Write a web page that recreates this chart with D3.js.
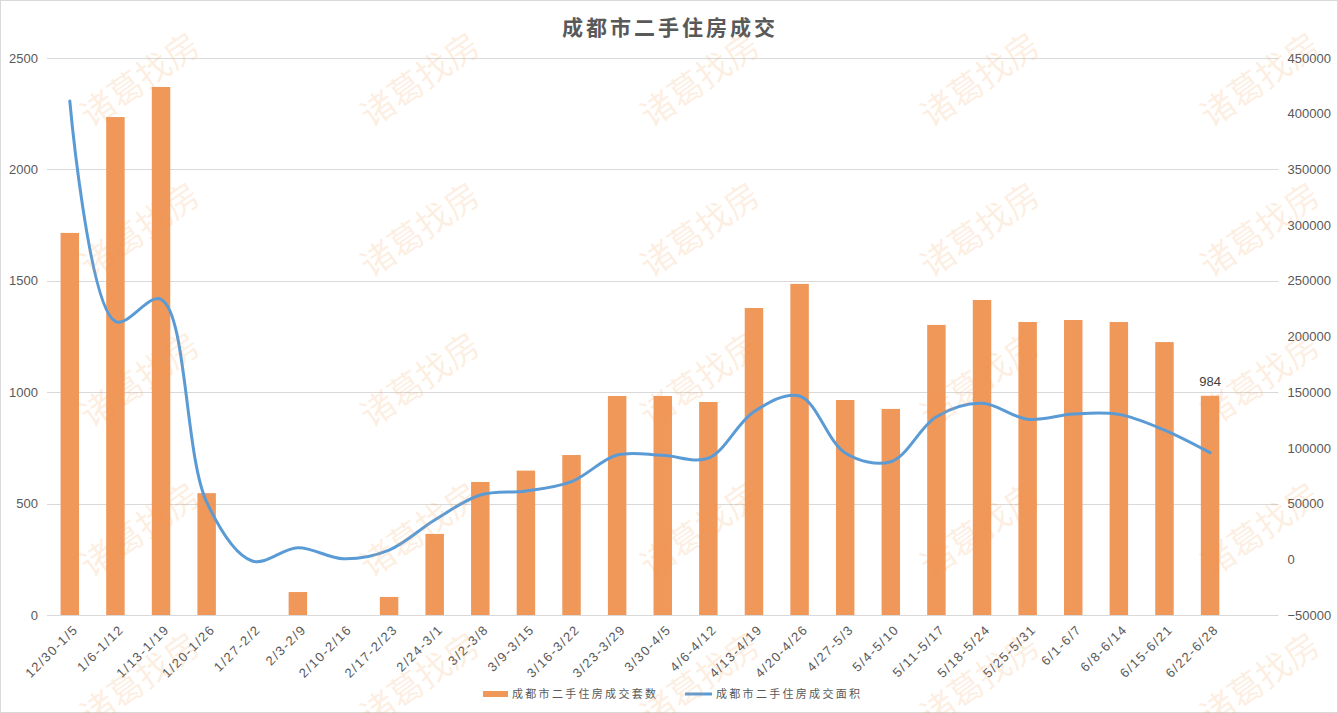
<!DOCTYPE html>
<html><head><meta charset="utf-8">
<script src="https://cdn.jsdelivr.net/npm/d3@7"></script>
<style>body{margin:0;background:#fff}svg{display:block}</style>
</head><body><svg id="c" width="1338" height="713"></svg>
<script>
const categories = ["12/30-1/5","1/6-1/12","1/13-1/19","1/20-1/26","1/27-2/2","2/3-2/9","2/10-2/16","2/17-2/23","2/24-3/1","3/2-3/8","3/9-3/15","3/16-3/22","3/23-3/29","3/30-4/5","4/6-4/12","4/13-4/19","4/20-4/26","4/27-5/3","5/4-5/10","5/11-5/17","5/18-5/24","5/25-5/31","6/1-6/7","6/8-6/14","6/15-6/21","6/22-6/28"];
const countValues = [1715,2235,2370,547,0,103,0,81,364,597,648,718,983,983,956,1378,1486,965,925,1302,1414,1315,1324,1315,1225,984];
const areaValues = [411400,213500,233400,51500,-1500,10400,500,8300,35300,57700,61300,69700,93600,93300,90800,132500,146600,95500,87600,128000,140000,125700,130400,130100,116000,95700];
const leftTicks = [0,500,1000,1500,2000,2500];
const rightTicks = [-50000,0,50000,100000,150000,200000,250000,300000,350000,400000,450000];
const seriesNames = ["成都市二手住房成交套数","成都市二手住房成交面积"];
const title = "成都市二手住房成交";
const watermark = "诸葛找房";

const W = 1338, H = 713;
const plot = {left: 47, right: 1278.5, top: 58, bottom: 615};
const barColor = "#F0985A", lineColor = "#5B9BD5", gridColor = "#d9d9d9", textColor = "#595959";
const svg = d3.select("#c");

svg.append("rect").attr("x",0.5).attr("y",0.5).attr("width",W-1).attr("height",H-1)
  .attr("fill","#fff").attr("stroke","#d9d9d9");

const step = (plot.right - plot.left) / (categories.length + 1);
const x = d3.scaleBand().domain(categories)
  .range([plot.left, plot.right - step]).paddingInner(0.595).paddingOuter(0.2975);
const yL = d3.scaleLinear().domain([0,2500]).range([plot.bottom, plot.top]);
const yR = d3.scaleLinear().domain([-50000,450000]).range([plot.bottom, plot.top]);
const cx = c => x(c) + x.bandwidth()/2;

// gridlines
svg.append("g").selectAll("line").data(leftTicks).join("line")
  .attr("x1", plot.left).attr("x2", plot.right)
  .attr("y1", d => Math.round(yL(d))+0.5).attr("y2", d => Math.round(yL(d))+0.5)
  .attr("stroke", gridColor).attr("stroke-width",1);

// left axis
const axL = svg.append("g").attr("transform",`translate(${plot.left-9},0)`)
  .call(d3.axisLeft(yL).tickValues(leftTicks).tickSize(0).tickPadding(0).tickFormat(d => String(d)));
axL.select(".domain").remove();
axL.selectAll("text").attr("fill",textColor).style("font-family","'Liberation Sans',Arial,sans-serif").style("font-size","13px");

// right axis
const axR = svg.append("g").attr("transform",`translate(${plot.right+9},0)`)
  .call(d3.axisRight(yR).tickValues(rightTicks).tickSize(0).tickPadding(0).tickFormat(d => d<0 ? "\u2212"+Math.abs(d) : String(d)));
axR.select(".domain").remove();
axR.selectAll("text").attr("fill",textColor).style("font-family","'Liberation Sans',Arial,sans-serif").style("font-size","13px");

// bars
svg.append("g").selectAll("rect").data(categories).join("rect")
  .attr("x", c => x(c)).attr("width", x.bandwidth())
  .attr("y", (c,i) => yL(countValues[i])).attr("height", (c,i) => yL(0) - yL(countValues[i]))
  .attr("fill", barColor);

// line
const line = d3.line().x((d,i) => cx(categories[i])).y(d => yR(d)).curve(d3.curveCatmullRom.alpha(0.5));
svg.append("path").datum(areaValues).attr("d", line)
  .attr("fill","none").attr("stroke",lineColor).attr("stroke-width",3).attr("stroke-linecap","round");

// data label
const last = categories.length-1;
svg.append("text").attr("x", cx(categories[last])).attr("y", yL(countValues[last]) - 10)
  .attr("text-anchor","middle").attr("fill","#404040")
  .style("font-family","'Liberation Sans',Arial,sans-serif").style("font-size","13px")
  .text(countValues[last]);

// x labels
svg.append("g").selectAll("text").data(categories).join("text")
  .attr("transform", c => `translate(${cx(c)+6},${plot.bottom+12}) rotate(-45)`)
  .attr("text-anchor","end").attr("dy","0.35em").attr("fill",textColor)
  .style("font-family","'Liberation Sans',Arial,sans-serif").style("font-size","13px")
  .style("letter-spacing","1.5px")
  .text(c => c);

// title
svg.append("text").attr("x", 670).attr("y", 35).attr("text-anchor","middle")
  .attr("fill", textColor).style("font-family","'Noto Sans CJK SC',sans-serif")
  .style("font-size","21px").style("font-weight","bold").style("letter-spacing","3px")
  .text(title);

// legend
const lg = svg.append("g").style("font-family","'Noto Sans CJK SC',sans-serif").style("font-size","11px");
lg.append("rect").attr("x",483).attr("y",691).attr("width",25).attr("height",6).attr("fill",barColor);
lg.append("text").attr("x",512).attr("y",698).attr("fill",textColor).style("letter-spacing","2.3px").text(seriesNames[0]);
lg.append("line").attr("x1",685).attr("x2",712).attr("y1",694).attr("y2",694).attr("stroke",lineColor).attr("stroke-width",3);
lg.append("text").attr("x",716).attr("y",698).attr("fill",textColor).style("letter-spacing","2.3px").text(seriesNames[1]);

// watermark
const wm = svg.append("g").attr("pointer-events","none");
const cols = [140,420,700,980,1260], rows = [80,230,380,530,680];
rows.forEach(ry => cols.forEach(rx => {
  wm.append("text").attr("transform",`translate(${rx},${ry}) rotate(-35)`)
    .attr("text-anchor","middle").attr("dy","0.35em")
    .attr("fill","#f79646").attr("fill-opacity",0.16)
    .style("font-family","'Noto Sans CJK SC',sans-serif").style("font-size","34px")
    .text(watermark);
}));
</script></body></html>
